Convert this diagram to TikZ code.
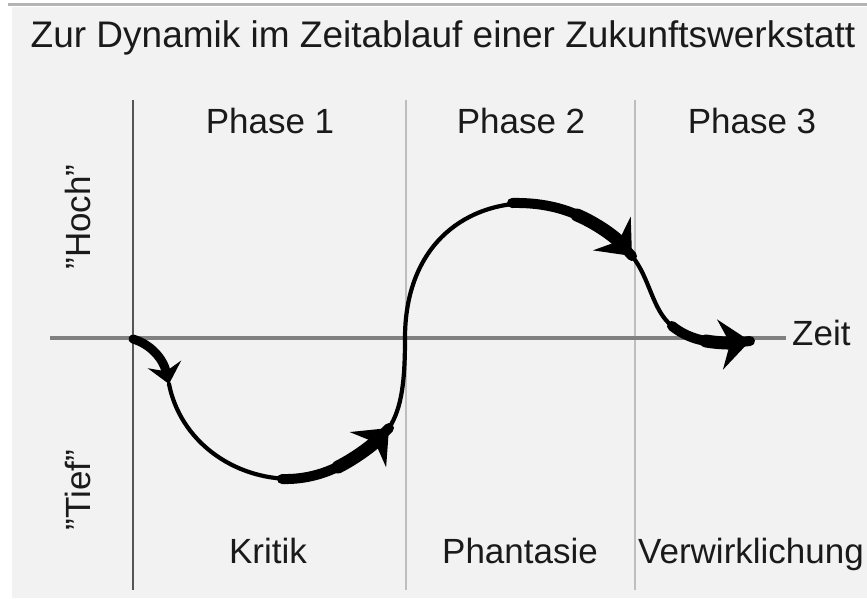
\documentclass[tikz,border=0pt]{standalone}
\usepackage{fontspec}
\setmainfont{Liberation Sans}
\usepackage{xcolor}
\usetikzlibrary{arrows.meta}
\definecolor{panel}{HTML}{F2F2F2}
\definecolor{framegray}{HTML}{B4B4B4}
\definecolor{axisgray}{HTML}{808080}
\definecolor{yaxisgray}{HTML}{555555}
\definecolor{rulegray}{HTML}{BEBEBE}
\definecolor{ink}{HTML}{1A1A1A}
\tikzset{
  lbl/.style={font=\fontsize{35}{40}\selectfont, text=ink, anchor=base, inner sep=0pt},
  ttl/.style={lbl, font=\fontsize{37}{42}\selectfont},
  vlbl/.style={lbl, rotate=90},
  divider/.style={draw=rulegray, line width=2pt},
  thinline/.style={draw=black, line width=4.2pt, line cap=round},
  brushbase/.style={draw=black, line width=10pt, line cap=round},
  brush/.style={draw=black, line width=13pt, line cap=round,
                -{Stealth[length=30pt, width=50pt, inset=10pt]}},
  smallbrush/.style={brush, line width=9pt,
                -{Stealth[length=20pt, width=34pt, inset=7pt]}}
}
\newcommand{\qt}[1]{\symbol{34}#1\symbol{34}}

\begin{document}
\begin{tikzpicture}[x=1pt, y=-1pt]
  \useasboundingbox (0,0) rectangle (867,598);
  \fill[white] (0,0) rectangle (867,598);
  \fill[panel] (12,7) rectangle (867,598);
  \draw[framegray, line width=3pt] (8,4) -- (867,4);

  % title and phase headings
  \node[ttl] (title) at (443,47) {Zur Dynamik im Zeitablauf einer Zukunftswerkstatt};
  \node[lbl] (ph1) at (270,133) {Phase 1};
  \node[lbl] (ph2) at (521,133) {Phase 2};
  \node[lbl] (ph3) at (752,133) {Phase 3};
  \node[lbl] (kritik) at (268,563) {Kritik};
  \node[lbl] (phant) at (520,563) {Phantasie};
  \node[lbl] (verw) at (751,563) {Verwirklichung};
  \node[vlbl] (hoch) at (90,217) {\qt{Hoch}};
  \node[vlbl] (tief) at (90,490) {\qt{Tief}};

  % axes and phase borders
  \coordinate (ytop) at (133,100); \coordinate (ybot) at (133,590);
  \coordinate (d1top) at (406,100); \coordinate (d1bot) at (406,590);
  \coordinate (d2top) at (635,100); \coordinate (d2bot) at (635,590);
  \draw[divider] (d1top) -- (d1bot);
  \draw[divider] (d2top) -- (d2bot);
  \coordinate (xa) at (50,338); \coordinate (xb) at (786,338);
  \draw[axisgray, line width=4pt] (xa) -- (xb);
  \draw[yaxisgray, line width=2.5pt] (ytop) -- (ybot);
  \node[lbl, anchor=base west] (zeit) at (792,345) {Zeit};

  % the course of the workshop
  \coordinate (start) at (133,339);
  \coordinate (tip1) at (169,384);
  \coordinate (low) at (292,479);
  \coordinate (b2) at (282,479); \coordinate (m2) at (338,467);
  \coordinate (tip2) at (389,428);
  \coordinate (cross) at (405,338);
  \coordinate (peak) at (530,203);
  \coordinate (b3) at (512,203); \coordinate (m3) at (577,215);
  \coordinate (tip3) at (632,256);
  \coordinate (turn) at (672,326); \coordinate (m4) at (706,341);
  \coordinate (tip4) at (750,341);
  \draw[thinline] (tip1) .. controls (180,440) and (232,479) .. (low);
  \draw[thinline] (tip2) .. controls (402,408) and (405,380) .. (cross)
    .. controls (405,250) and (460,203) .. (peak);
  \draw[thinline] (tip3) .. controls (650,278) and (652,310) .. (turn);
  \draw[smallbrush] (start) .. controls (150,344) and (163,358) .. (tip1);
  \draw[brushbase] (b2) .. controls (322,480) and (356,462) .. (tip2);
  \draw[brush] (m2) .. controls (355.75,458) and (372.5,445) .. (tip2);
  \draw[brushbase] (b3) .. controls (560,202) and (598,218) .. (tip3);
  \draw[brush] (m3) .. controls (597,223.5) and (615,237) .. (tip3);
  \draw[brushbase] (turn) .. controls (692,342) and (716,345) .. (tip4);
  \draw[brush] (m4) .. controls (718.5,343.25) and (733,343) .. (tip4);
\end{tikzpicture}
\end{document}
